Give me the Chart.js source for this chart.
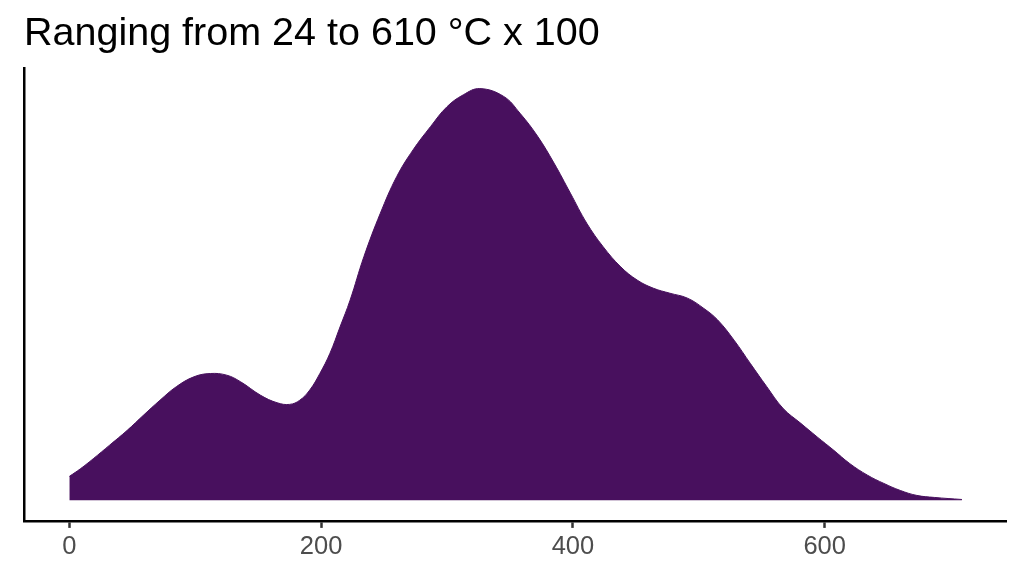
<!DOCTYPE html>
<html>
<head>
<meta charset="utf-8">
<script src="https://cdn.jsdelivr.net/npm/chart.js@4.4.1/dist/chart.umd.min.js"></script>
<style>
  html, body { margin: 0; padding: 0; background: #ffffff; }
  #wrap { width: 1024px; height: 576px; }
</style>
</head>
<body>
<div id="wrap"><canvas id="densityChart" width="1024" height="576"></canvas></div>
<script>
// values (x in data units, density relative to the peak)
const temps = [0, 9, 19, 32, 46, 59, 72, 85, 99, 112, 125, 136, 152, 165, 175, 183, 191, 199, 207, 215,
    223, 234, 247, 260, 273, 287, 300, 313, 326, 345, 358, 372, 385, 398, 411, 424, 438, 451, 464, 477,
    491, 504, 515, 528, 541, 554, 567, 581, 594, 607, 620, 634, 647, 660, 673, 687, 709];
const density = [0.058, 0.077, 0.101, 0.134, 0.170, 0.207, 0.243, 0.276, 0.300, 0.308, 0.304, 0.288, 0.255, 0.237, 0.233, 0.243, 0.268, 0.308, 0.357, 0.421,
    0.486, 0.592, 0.697, 0.786, 0.851, 0.908, 0.956, 0.985, 1.000, 0.981, 0.940, 0.884, 0.819, 0.746, 0.673, 0.616, 0.567, 0.535, 0.515, 0.503,
    0.491, 0.466, 0.438, 0.389, 0.332, 0.276, 0.223, 0.187, 0.154, 0.122, 0.089, 0.061, 0.041, 0.024, 0.012, 0.007, 0.002];
const xTicks = [0, 200, 400, 600];
const titleText = 'Ranging from 24 to 610 °C x 100';

const fillColor = '#48105E';
const font = '"Liberation Sans", Arial, Helvetica, sans-serif';

// title and x tick labels, placed by hand (tick positions come from the x scale)
const axisText = {
    id: 'axisText',
    afterDraw(chart) {
        const c = chart.ctx;
        c.save();
        c.fillStyle = '#000000';
        c.font = '39.5px ' + font;
        c.textAlign = 'left';
        c.textBaseline = 'alphabetic';
        c.fillText(titleText, 24, 45);

        const xs = chart.scales.x;
        c.fillStyle = '#4D4D4D';
        c.font = '25.5px ' + font;
        c.textAlign = 'center';
        xs.ticks.forEach(t => {
            c.fillText(t.label, xs.getPixelForValue(t.value), 553.5);
        });
        c.restore();
    }
};

const ctx = document.getElementById('densityChart').getContext('2d');
new Chart(ctx, {
    type: 'line',
    data: {
        datasets: [{
            data: temps.map((t, i) => ({ x: t, y: density[i] })),
            backgroundColor: fillColor,
            borderColor: fillColor,
            borderWidth: 1,
            fill: 'origin',
            pointRadius: 0,
            tension: 0.4
        }]
    },
    options: {
        responsive: false,
        animation: false,
        devicePixelRatio: 1,
        layout: { padding: { left: 24, right: 18, top: 68, bottom: 14.5 } },
        plugins: {
            legend: { display: false },
            tooltip: { enabled: false },
            title: { display: false }
        },
        scales: {
            x: {
                type: 'linear',
                min: -36,
                max: 744,
                afterBuildTicks: axis => { axis.ticks = xTicks.map(v => ({ value: v })); },
                ticks: {
                    color: 'rgba(0,0,0,0)',
                    font: { family: font, size: 23 },
                    padding: 3,
                    includeBounds: false
                },
                grid: {
                    display: true,
                    drawOnChartArea: false,
                    drawTicks: true,
                    tickLength: 7,
                    tickWidth: 2.5,
                    color: '#333333'
                },
                border: { display: true, color: '#000000', width: 2.5 }
            },
            y: {
                min: -0.05,
                max: 1.05,
                ticks: { display: false },
                grid: { display: false, drawTicks: false },
                border: { display: true, color: '#000000', width: 2.5 }
            }
        }
    },
    plugins: [axisText]
});
</script>
</body>
</html>
